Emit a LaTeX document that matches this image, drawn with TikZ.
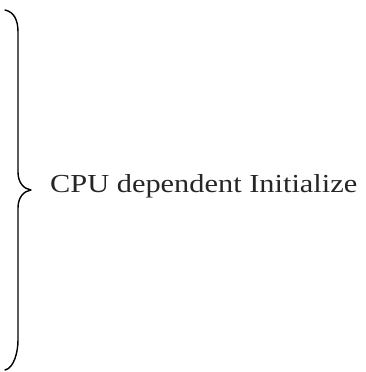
\documentclass[tikz,border=0pt]{standalone}
\usepackage{fontspec}
\setmainfont{Liberation Serif}
\usepackage{graphicx}
\begin{document}
\begin{tikzpicture}[x=1pt,y=1pt,
  bracestyle/.style={line width=1.4pt,line cap=round,line join=round},
  labelstyle/.style={inner sep=0pt,anchor=base west,text=black!85}]
\useasboundingbox (0,0) rectangle (366,372);
\coordinate (btop) at (5,362);
\coordinate (btip) at (31,182);
\coordinate (bbot) at (5,2);
\draw[bracestyle] (btop) .. controls (14,360) and (18,352) .. (18,340) -- (18,200)
  .. controls (18,189) and (24,183) .. (btip)
  .. controls (24,181) and (18,175) .. (18,164) -- (18,32)
  .. controls (18,20) and (14,4) .. (bbot);
\node[labelstyle] (lbl) at (50,179) {\resizebox{307pt}{18pt}{CPU dependent Initialize}};
\end{tikzpicture}
\end{document}
